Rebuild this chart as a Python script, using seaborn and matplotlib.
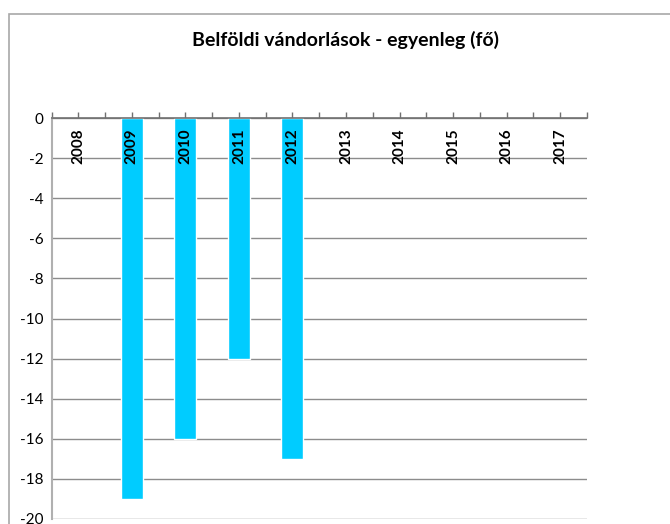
import numpy as np
import pandas as pd
import seaborn as sns
import matplotlib
matplotlib.use("Agg")
import matplotlib.pyplot as plt
from matplotlib.patches import Rectangle

years = ["2008", "2009", "2010", "2011", "2012", "2013", "2014", "2015", "2016", "2017"]
balance = [np.nan, -19, -16, -12, -17, np.nan, np.nan, np.nan, np.nan, np.nan]
y_ticks = list(range(0, -21, -2))
title = "Belföldi vándorlások - egyenleg (fő)"

df = pd.DataFrame({"year": years, "balance": balance})

sns.set_theme(style="white")
plt.rcParams["font.family"] = ["Lato", "DejaVu Sans"]

fig = plt.figure(figsize=(6.7, 5.24), dpi=100)
# outer chart frame (runs past the right and bottom edges)
fig.patches.append(Rectangle((9 / 670, -0.05), 0.1 + 661 / 670, 1 - 14 / 524 + 0.05,
                             transform=fig.transFigure, fill=False,
                             edgecolor="#a8a8a8", linewidth=1.2))

ax = fig.add_axes([51.5 / 670, 5 / 524, 535.5 / 670, 401 / 524])
sns.barplot(data=df, x="year", y="balance", color="#00CCFF", width=0.41,
            saturation=1, ax=ax)

ax.set_ylim(-20, 0)
ax.set_xlim(-0.5, len(years) - 0.5)
ax.set_yticks(y_ticks)
ax.set_yticklabels([str(v) for v in y_ticks], fontsize=11, color="#000000")
ax.yaxis.grid(True, color="#8c8c8c", linewidth=1)
ax.set_axisbelow(True)
ax.set_xlabel("")
ax.set_ylabel("")

# category axis sits on the zero line, at the top
ax.xaxis.tick_top()
ax.set_xticks(np.arange(-0.5, len(years), 1.0))
ax.set_xticks(np.arange(0, len(years), 1.0), minor=True)
ax.set_xticklabels([])
ax.tick_params(axis="x", which="both", direction="out", length=4,
               color="#707070", width=1, top=True, bottom=False)
ax.tick_params(axis="y", length=3, width=1, color="#8c8c8c", pad=3)

for name in ["bottom", "right"]:
    ax.spines[name].set_visible(False)
ax.spines["top"].set_color("#707070")
ax.spines["top"].set_linewidth(1.2)
ax.spines["left"].set_color("#b0b0b0")
ax.spines["left"].set_linewidth(1.5)

for i, yr in enumerate(years):
    ax.text(i, -0.5, yr, rotation=90, ha="center", va="top",
            fontsize=11, fontweight="bold", color="#000000")

fig.text(345 / 670, 1 - 40 / 524, title, ha="center", va="center",
         fontsize=14, fontweight="bold", color="#000000")

fig.savefig("out.png", dpi=100)
